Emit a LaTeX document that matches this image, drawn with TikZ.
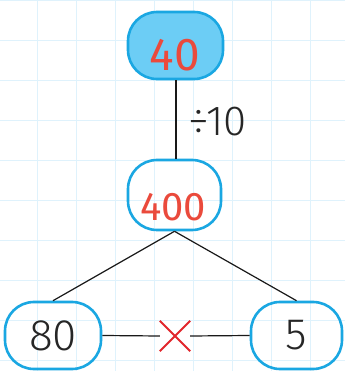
\documentclass[tikz,border=0pt]{standalone}
\usepackage{fontspec}
\setmainfont{Fira Sans}[UprightFont=* Light]
\newfontfamily\handfont{Fira Sans}
\definecolor{gridblue}{HTML}{DFF2FC}
\definecolor{boxblue}{HTML}{1AA7E2}
\definecolor{fillblue}{HTML}{6CCDF5}
\definecolor{penred}{HTML}{EA4A3C}
\definecolor{crossred}{HTML}{E2262C}
\begin{document}
\begin{tikzpicture}[x=1pt,y=1pt,
  numbox/.style={draw=boxblue,line width=2.6pt,rounded corners=29pt,inner sep=0pt,
    minimum width=94pt,minimum height=67pt,font=\fontsize{44}{44}\selectfont,text=black!85},
  hand/.style={text=penred,font=\handfont\fontsize{46}{46}\selectfont},
  link/.style={draw=black!90,line width=1.2pt}]
\useasboundingbox (0,0) rectangle (345,371);
\fill[white] (0,0) rectangle (345,371);
\foreach \k in {0,...,7} \draw[gridblue,line width=1pt] (37+39*\k,0) -- (37+39*\k,371);
\foreach \k in {0,...,9} \draw[gridblue,line width=1pt] (0,370-40*\k) -- (345,370-40*\k);
\node[numbox,fill=fillblue,minimum width=95pt] (top) at (175.5,325.5) {};
\node[hand] (toptxt) at (175,316) {40};
\node[numbox,minimum width=93pt,minimum height=70pt] (mid) at (174.5,176) {};
\node[hand,font=\handfont\fontsize{40}{40}\selectfont] (midtxt) at (173,164) {400};
\node[numbox,minimum width=96pt] (bl) at (53,35.5) {80};
\node[numbox,minimum width=91pt] (br) at (296.5,35.5) {5};
\node[inner sep=0pt,minimum size=30pt] (times) at (175,35) {};
\draw[crossred,line width=2pt] (times.north west) -- (times.south east) (times.north east) -- (times.south west);
\draw[link,line width=1.8pt] (top.south -| 176,0) -- (176,0 |- mid.north);
\node[inner sep=0pt,anchor=west,font=\fontsize{42}{42}\selectfont,text=black!85] (op) at (188,249) {÷10};
\draw[link] (mid.south) -- (bl.north);
\draw[link] (mid.south) -- (br.north);
\draw[link] (bl.east) -- (times.west);
\draw[link] (times.east) -- (br.west);
\end{tikzpicture}
\end{document}
